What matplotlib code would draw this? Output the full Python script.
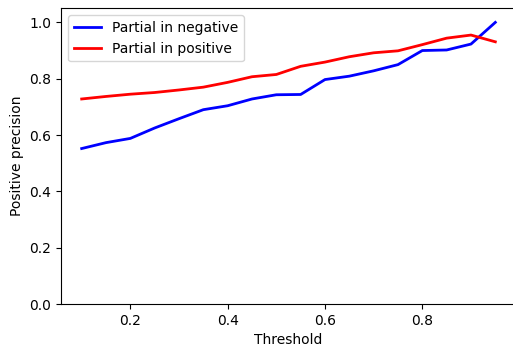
import numpy as np
import matplotlib
matplotlib.use("Agg")
import matplotlib.pyplot as plt

thresholds = [0.10, 0.15, 0.20, 0.25, 0.30, 0.35, 0.40, 0.45, 0.50,
              0.55, 0.60, 0.65, 0.70, 0.75, 0.80, 0.85, 0.90, 0.95]
partial_negative = [0.552, 0.573, 0.588, 0.625, 0.658, 0.690, 0.704, 0.728, 0.743,
                    0.744, 0.797, 0.809, 0.828, 0.850, 0.900, 0.902, 0.923, 1.000]
partial_positive = [0.728, 0.737, 0.745, 0.751, 0.760, 0.770, 0.787, 0.807, 0.815,
                    0.844, 0.859, 0.878, 0.892, 0.899, 0.921, 0.944, 0.955, 0.931]

fig = plt.figure(figsize=(5.13, 3.5), dpi=100)
ax = fig.add_axes([61 / 513, 46 / 350, 455 / 513, 295.7 / 350])

ax.plot(thresholds, partial_negative, color="blue", lw=2, label="Partial in negative")
ax.plot(thresholds, partial_positive, color="red", lw=2, label="Partial in positive")

ax.set_ylim(0, 1.05)
ax.set_yticks([0.0, 0.2, 0.4, 0.6, 0.8, 1.0])
ax.set_xticks([0.2, 0.4, 0.6, 0.8])
ax.set_xlabel("Threshold")
ax.set_ylabel("Positive precision")
ax.spines["right"].set_visible(False)
ax.legend(loc="upper left")

fig.savefig("out.png", dpi=100)
